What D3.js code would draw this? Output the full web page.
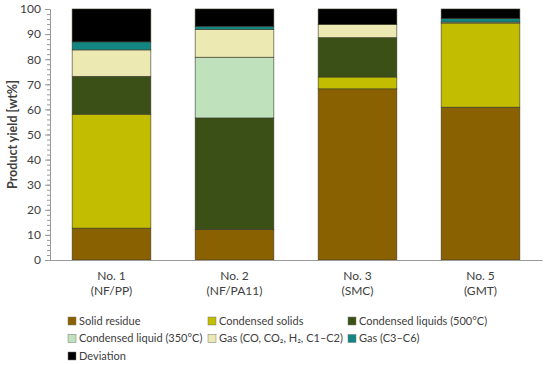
<!DOCTYPE html>
<html>
<head>
<meta charset="utf-8">
<script src="https://cdn.jsdelivr.net/npm/d3@7"></script>
<style>
  body { margin: 0; background: #fff; }
  svg text { font-family: Lato, "Open Sans", "DejaVu Sans", sans-serif; fill: #404040; }
</style>
</head>
<body>
<div id="chart"></div>
<script>
// samples and product fractions (wt%)
var samples = ["No. 1|(NF/PP)", "No. 2|(NF/PA11)", "No. 3|(SMC)", "No. 5|(GMT)"];
var seriesNames = [
  "Solid residue",
  "Condensed solids",
  "Condensed liquids (500°C)",
  "Condensed liquid (350°C)",
  "Gas (CO, CO₂, H₂, C1–C2)",
  "Gas (C3–C6)",
  "Deviation"
];
var solidResidue = [12.7, 12.2, 68.2, 60.9];
var condensedSolids = [45.4, 0, 4.7, 33.5];
var condensedLiquids500 = [15.1, 44.4, 15.7, 0];
var condensedLiquid350 = [0, 24.2, 0, 0];
var gasLight = [10.5, 11.1, 5.3, 0.4];
var gasHeavy = [3.2, 1.2, 0, 1.4];
var deviation = [13.1, 6.9, 6.1, 3.8];
var yTicks = [0, 10, 20, 30, 40, 50, 60, 70, 80, 90, 100];

var colors = ["#8a6100", "#c3bd00", "#3b5017", "#bfe2bd", "#ece9b3", "#138684", "#000000"];

var seriesValues = [solidResidue, condensedSolids, condensedLiquids500,
  condensedLiquid350, gasLight, gasHeavy, deviation];

var rows = samples.map(function (s, i) {
  var row = { sample: s };
  seriesNames.forEach(function (n, k) { row[n] = seriesValues[k][i]; });
  return row;
});

var W = 550, H = 365;
var margin = { top: 9, right: 8, bottom: 105, left: 50 };
var width = W - margin.left - margin.right,
  height = H - margin.top - margin.bottom;

var svg = d3.select("#chart").append("svg")
  .attr("width", W).attr("height", H);

var g = svg.append("g")
  .attr("transform", "translate(" + margin.left + "," + margin.top + ")");

var x = d3.scaleBand().domain(samples).range([0, width]).paddingInner(0.36).paddingOuter(0.18);
var y = d3.scaleLinear().domain([0, 100]).range([height, 0]);

var stack = d3.stack().keys(seriesNames)(rows);

// minor ticks
g.append("g")
  .call(d3.axisLeft(y).tickValues(d3.range(0, 101, 2)).tickSize(3).tickFormat(""))
  .call(function (a) {
    a.select(".domain").remove();
    a.selectAll("line").attr("stroke", "#999");
  });

var yAxis = g.append("g")
  .call(d3.axisLeft(y).tickValues(yTicks).tickSize(5).tickPadding(4));
yAxis.select(".domain").attr("stroke", "#999");
yAxis.selectAll("line").attr("stroke", "#999");
yAxis.selectAll("text").style("font-size", "12px").attr("fill", "#404040");

g.selectAll(".layer")
  .data(stack)
  .enter().append("g")
  .attr("class", "layer")
  .attr("fill", function (d, i) { return colors[i]; })
  .selectAll("rect")
  .data(function (d) { return d; })
  .enter().append("rect")
  .attr("x", function (d) { return x(d.data.sample); })
  .attr("width", x.bandwidth())
  .attr("y", function (d) { return y(d[1]); })
  .attr("height", function (d) { return y(d[0]) - y(d[1]); })
  .attr("stroke", "#3a3a2a")
  .attr("stroke-width", function (d) { return d[1] - d[0] > 0 ? 0.6 : 0; });

var xAxis = g.append("g")
  .attr("transform", "translate(0," + height + ")")
  .call(d3.axisBottom(x).tickSize(0).tickFormat(""));
xAxis.select(".domain").attr("stroke", "#999");

samples.forEach(function (s) {
  var parts = s.split("|");
  var t = g.append("text")
    .attr("x", x(s) + x.bandwidth() / 2)
    .attr("y", height + 20)
    .attr("text-anchor", "middle")
    .style("font-size", "12px");
  t.append("tspan").attr("x", x(s) + x.bandwidth() / 2).text(parts[0]);
  t.append("tspan").attr("x", x(s) + x.bandwidth() / 2).attr("dy", 15).text(parts[1]);
});

svg.append("text")
  .attr("transform", "translate(13," + (margin.top + height / 2) + ") rotate(-90)")
  .attr("text-anchor", "middle")
  .attr("dy", "0.35em")
  .style("font-size", "12.5px")
  .style("font-weight", "bold")
  .attr("fill", "#222")
  .text("Product yield [wt%]");

// legend
var legCols = [68, 208, 348];
var legend = svg.append("g");
seriesNames.forEach(function (n, i) {
  var lx = legCols[i % 3], ly = 321 + Math.floor(i / 3) * 17.5;
  legend.append("rect")
    .attr("x", lx).attr("y", ly - 4).attr("width", 8).attr("height", 8)
    .attr("fill", colors[i]).attr("stroke", "#777").attr("stroke-width", 0.5);
  legend.append("text")
    .attr("x", lx + 11).attr("y", ly)
    .attr("dy", "0.35em")
    .style("font-size", "11px")
    .text(n);
});
</script>
</body>
</html>
